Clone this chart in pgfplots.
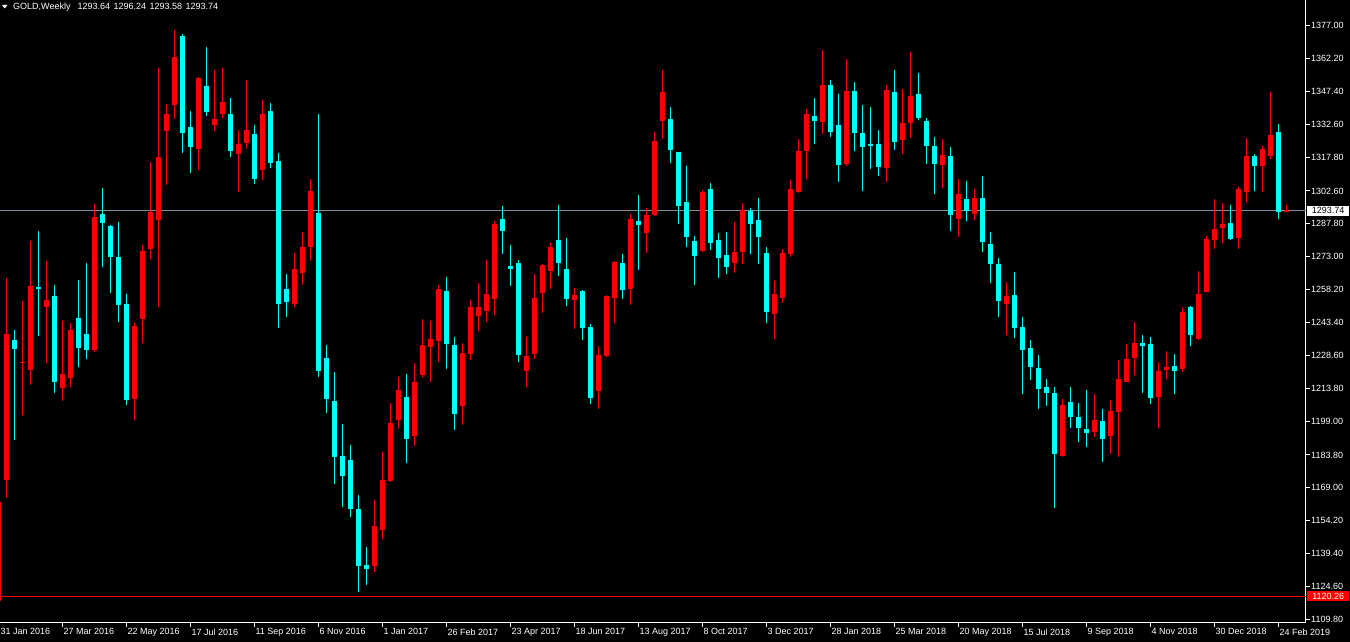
\documentclass[border=0pt]{standalone}
\usepackage{pgfplots}
\pgfplotsset{compat=1.18}
\usepackage{pgfplotstable}
\usepackage{fontspec}
\setmainfont{Liberation Sans}
\definecolor{upc}{RGB}{255,0,0}
\definecolor{dnc}{RGB}{0,255,255}
\definecolor{bidc}{RGB}{130,145,160}

\pgfplotstableread{
k O H L C
0 1172.5 1263.4 1164.3 1238.1
2 1225.3 1253.2 1201.8 1225.7
3 1222.2 1280.1 1215.5 1259.7
5 1250.2 1270.9 1225.2 1253.4
7 1213.9 1244.1 1208.1 1220.2
8 1218.5 1243.0 1214.3 1240.1
11 1230.9 1296.5 1229.9 1290.8
16 1209.0 1243.0 1199.5 1241.8
17 1245.0 1278.1 1234.1 1275.5
18 1276.5 1315.5 1272.0 1293.0
19 1289.5 1358.1 1250.2 1317.8
20 1329.5 1341.6 1305.3 1337.4
21 1341.1 1374.8 1334.8 1362.7
24 1321.5 1353.7 1311.8 1353.2
26 1332.2 1357.2 1329.4 1334.8
27 1337.4 1357.8 1335.5 1342.5
29 1319.0 1329.9 1302.0 1323.6
30 1324.1 1352.3 1321.3 1329.9
32 1311.8 1343.4 1307.4 1337.1
36 1251.6 1274.6 1250.2 1267.4
37 1265.7 1284.1 1260.2 1277.3
38 1277.3 1307.8 1270.9 1302.5
46 1133.9 1163.6 1131.1 1151.8
47 1150.1 1185.2 1146.1 1172.5
48 1172.2 1207.1 1171.7 1198.1
49 1199.5 1218.9 1195.5 1213.1
51 1192.4 1225.2 1187.8 1216.6
52 1219.7 1245.0 1218.9 1233.2
53 1232.4 1244.1 1216.6 1235.9
54 1235.0 1260.2 1225.7 1258.5
57 1205.9 1234.1 1197.3 1229.7
58 1229.2 1253.4 1226.6 1250.2
59 1246.2 1261.1 1239.5 1250.2
60 1248.5 1271.5 1243.6 1256.2
61 1253.9 1289.0 1246.7 1287.6
65 1221.5 1236.9 1214.3 1228.3
66 1229.2 1265.2 1226.9 1254.3
67 1256.6 1269.7 1247.6 1269.2
68 1266.6 1279.0 1258.5 1277.3
71 1253.4 1258.8 1240.4 1255.7
74 1212.5 1232.9 1204.5 1228.7
75 1228.3 1255.7 1227.8 1255.3
76 1254.3 1270.9 1243.0 1270.6
78 1258.5 1292.2 1251.3 1289.9
80 1283.6 1294.8 1274.6 1291.6
81 1291.6 1329.0 1291.3 1325.0
82 1333.9 1357.2 1325.9 1346.9
87 1275.5 1302.9 1275.0 1302.0
91 1270.1 1288.5 1265.7 1275.0
92 1275.0 1297.1 1269.7 1293.9
96 1247.3 1262.0 1235.9 1256.2
97 1254.3 1276.4 1252.2 1274.6
98 1274.1 1307.4 1272.9 1303.4
99 1302.0 1325.9 1301.8 1320.4
100 1320.4 1339.4 1307.8 1337.4
102 1333.4 1365.8 1328.1 1350.1
105 1314.6 1361.8 1313.8 1347.4
110 1312.9 1350.1 1306.5 1347.8
112 1325.3 1348.3 1319.0 1333.0
113 1333.0 1365.3 1326.2 1345.1
117 1314.1 1325.9 1303.7 1318.9
119 1289.9 1307.8 1281.8 1301.1
121 1292.2 1303.4 1289.4 1299.4
125 1251.6 1261.5 1237.8 1255.3
132 1183.4 1209.0 1182.9 1206.2
136 1194.1 1211.3 1191.8 1199.5
138 1192.4 1208.5 1184.3 1203.6
139 1203.1 1226.6 1182.9 1218.0
140 1216.6 1233.8 1216.4 1227.1
141 1227.4 1243.6 1219.7 1234.1
144 1209.9 1225.7 1195.9 1221.5
145 1222.0 1230.6 1218.0 1223.4
147 1222.5 1250.2 1221.1 1248.1
149 1235.9 1266.6 1235.5 1256.2
150 1257.1 1282.2 1256.9 1280.9
151 1280.4 1298.8 1276.4 1285.3
152 1285.9 1297.1 1279.0 1287.6
154 1281.3 1304.3 1276.4 1303.4
155 1302.0 1326.2 1297.4 1318.1
157 1313.8 1322.7 1302.0 1321.3
158 1318.1 1346.9 1316.9 1327.6
160 1293.64 1296.24 1293.58 1293.74
}\uptab

\pgfplotstableread{
k O H L C
1 1235.5 1240.1 1190.6 1231.6
4 1259.4 1284.4 1237.1 1258.7
6 1255.3 1260.2 1211.7 1216.6
9 1245.3 1262.5 1223.4 1231.8
10 1238.1 1270.1 1226.9 1230.9
12 1292.2 1303.7 1268.3 1288.1
13 1286.7 1287.4 1256.6 1272.9
14 1272.9 1288.5 1243.6 1251.3
15 1251.6 1256.2 1206.4 1208.5
22 1372.5 1373.0 1319.5 1328.5
23 1331.3 1338.5 1310.6 1322.2
25 1349.7 1367.3 1336.2 1337.9
28 1337.4 1344.6 1317.8 1320.4
31 1328.1 1332.2 1305.7 1307.8
33 1338.5 1342.0 1312.9 1315.0
34 1316.0 1319.5 1240.9 1251.6
35 1258.5 1265.2 1245.9 1252.5
39 1292.5 1337.4 1218.9 1221.5
40 1227.4 1233.2 1202.7 1209.0
41 1208.1 1221.1 1170.8 1182.9
42 1183.4 1197.8 1160.4 1174.3
43 1181.5 1188.3 1155.9 1159.6
44 1159.6 1165.9 1122.2 1133.9
45 1134.5 1142.5 1125.5 1132.5
50 1209.9 1220.2 1180.3 1191.0
55 1257.4 1263.8 1222.5 1233.8
56 1233.2 1236.9 1195.0 1202.2
62 1289.9 1295.7 1274.1 1284.4
63 1268.7 1278.1 1259.7 1267.4
64 1270.1 1271.5 1225.7 1228.7
69 1280.4 1296.2 1264.3 1270.1
70 1267.4 1281.3 1250.7 1253.9
72 1257.4 1258.0 1235.5 1240.9
73 1241.3 1242.7 1206.7 1209.4
77 1270.1 1274.1 1253.9 1258.0
79 1289.0 1300.6 1266.9 1287.2
83 1334.8 1340.2 1315.0 1320.9
84 1320.1 1320.3 1287.6 1295.7
85 1297.4 1313.8 1277.3 1281.8
86 1280.1 1282.2 1260.2 1273.2
88 1303.4 1306.0 1275.9 1279.0
89 1280.4 1283.6 1263.4 1272.4
90 1273.7 1284.1 1265.2 1268.3
93 1293.4 1294.8 1274.1 1287.6
94 1289.4 1299.4 1269.7 1281.8
95 1274.6 1277.3 1243.0 1248.1
101 1336.2 1344.6 1323.6 1333.9
103 1350.1 1352.3 1326.7 1329.0
104 1332.2 1346.0 1306.5 1314.1
106 1347.4 1351.4 1320.4 1328.5
107 1328.5 1341.1 1302.5 1322.2
108 1323.4 1340.2 1312.4 1323.2
109 1323.6 1329.9 1309.2 1313.2
111 1346.9 1356.9 1320.9 1324.4
114 1346.0 1355.5 1334.4 1335.3
115 1333.9 1335.3 1314.6 1322.7
116 1322.7 1326.7 1301.1 1314.6
118 1318.1 1322.2 1284.4 1291.6
120 1298.8 1306.9 1289.0 1293.4
122 1299.4 1309.2 1275.0 1279.5
123 1278.7 1284.1 1261.1 1269.7
124 1269.7 1272.4 1245.9 1253.1
126 1255.7 1266.0 1236.4 1240.9
127 1241.3 1245.9 1211.3 1230.9
128 1231.8 1235.5 1217.4 1223.4
129 1222.9 1228.7 1204.5 1213.4
130 1214.3 1218.0 1205.9 1211.7
131 1211.7 1214.3 1159.9 1184.3
133 1207.6 1214.3 1195.9 1201.0
134 1201.0 1207.1 1189.7 1195.9
135 1195.5 1213.1 1187.4 1193.8
137 1199.0 1204.5 1180.6 1191.0
142 1234.1 1237.8 1211.7 1232.9
143 1233.8 1236.9 1206.7 1209.4
146 1223.7 1229.2 1211.3 1221.5
148 1250.2 1250.8 1232.9 1237.8
153 1288.1 1296.2 1280.4 1280.9
156 1318.1 1319.0 1302.5 1313.8
159 1329.0 1332.5 1289.9 1293.0
}\dntab

\begin{document}
\begin{tikzpicture}[x=1pt,y=1pt,font=\fontsize{9}{10}\selectfont]
\fill[black] (0,0) rectangle (1350,-642);
\begin{axis}[
  at={(0,0)}, anchor=north west,
  scale only axis, width=1306pt, height=622.5pt,
  xmin=-0.79, xmax=162.46, ymin=1108.4, ymax=1388.5,
  clip=false,
  axis x line=bottom, axis y line=right,
  axis line style={white, line width=1pt, -},
  tick align=outside, major tick length=4pt,
  tick style={white, line width=1pt},
  xtick={7,15,...,159},
  xticklabels={27 Mar 2016, 22 May 2016, 17 Jul 2016, 11 Sep 2016, 6 Nov 2016, 1 Jan 2017, 26 Feb 2017, 23 Apr 2017, 18 Jun 2017, 13 Aug 2017, 8 Oct 2017, 3 Dec 2017, 28 Jan 2018, 25 Mar 2018, 20 May 2018, 15 Jul 2018, 9 Sep 2018, 4 Nov 2018, 30 Dec 2018, 24 Feb 2019},
  xticklabel style={anchor=north west, inner sep=0pt, text=white, xshift=1pt, yshift=-2pt},
  ytick={1109.8,1124.6,1139.4,1154.2,1169,1183.8,1199,1213.8,1228.6,1243.4,1258.2,1273,1287.8,1302.6,1317.8,1332.6,1347.4,1362.2,1377},
  yticklabels={1109.80,1124.60,1139.40,1154.20,1169.00,1183.80,1199.00,1213.80,1228.60,1243.40,1258.20,1273.00,1287.80,1302.60,1317.80,1332.60,1347.40,1362.20,1377.00},
  yticklabel style={anchor=west, inner sep=0pt, text=white, xshift=1pt},
  every axis plot/.append style={forget plot},
]
% reference lines
\addplot[bidc, line width=1pt] coordinates {(-0.79,1293.74) (162.46,1293.74)};
\addplot[upc, line width=1pt] coordinates {(-0.79,1120.26) (162.46,1120.26)};
\addplot[upc, line width=1pt] coordinates {(-0.72,1162.4) (-0.72,1117.9)};
% wicks
\addplot[draw=none, mark=none,
  error bars/.cd, y dir=both, y explicit, error mark=none,
  error bar style={line width=1pt, solid, draw=upc}]
  table[x=k, y expr={(\thisrow{H}+\thisrow{L})/2}, y error expr={(\thisrow{H}-\thisrow{L})/2}] {\uptab};
\addplot[draw=none, mark=none,
  error bars/.cd, y dir=both, y explicit, error mark=none,
  error bar style={line width=1pt, solid, draw=dnc}]
  table[x=k, y expr={(\thisrow{H}+\thisrow{L})/2}, y error expr={(\thisrow{H}-\thisrow{L})/2}] {\dntab};
% bodies
\addplot[draw=none, mark=none,
  error bars/.cd, y dir=both, y explicit, error mark=none,
  error bar style={line width=5pt, solid, draw=upc}]
  table[x=k, y expr={(\thisrow{O}+\thisrow{C})/2}, y error expr={max(abs(\thisrow{C}-\thisrow{O})/2,0.3)}] {\uptab};
\addplot[draw=none, mark=none,
  error bars/.cd, y dir=both, y explicit, error mark=none,
  error bar style={line width=5pt, solid, draw=dnc}]
  table[x=k, y expr={(\thisrow{O}+\thisrow{C})/2}, y error expr={max(abs(\thisrow{C}-\thisrow{O})/2,0.3)}] {\dntab};
% price labels
\node[fill=white, text=black, anchor=west, inner sep=0pt, minimum width=42pt, minimum height=10pt] at (axis cs:162.46,1293.74) [xshift=1pt] {1293.74};
\node[fill=upc, text=white, anchor=west, inner sep=0pt, minimum width=42pt, minimum height=10pt] at (axis cs:162.46,1120.26) [xshift=1pt] {1120.26};
\node[anchor=north west, inner sep=0pt, text=white] at (axis cs:-1,1108.4) [xshift=2pt, yshift=-6pt] {31 Jan 2016};
\end{axis}
% title
\fill[white] (2,-5) -- (7.5,-5) -- (4.75,-8.5) -- cycle;
\node[anchor=west, inner sep=0pt, text=white] at (13,-7) {GOLD,Weekly\hspace{7pt}1293.64\hspace{3.5pt}1296.24\hspace{3.5pt}1293.58\hspace{3.5pt}1293.74};
\pgfresetboundingbox
\path[use as bounding box] (0,0) rectangle (1350,-642);
\end{tikzpicture}
\end{document}
